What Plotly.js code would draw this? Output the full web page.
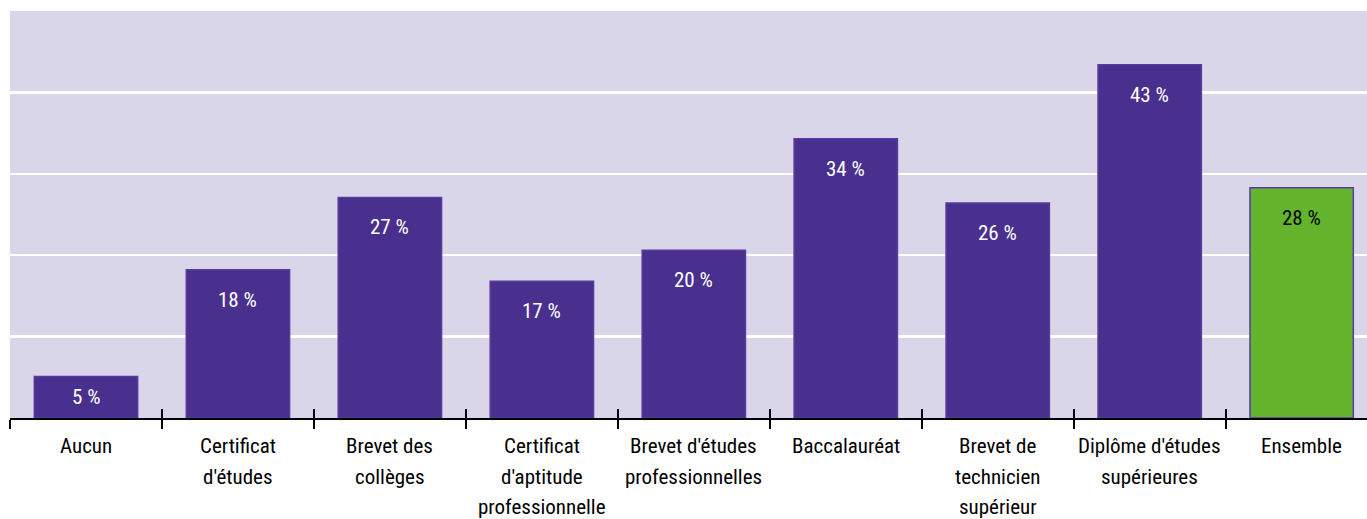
<!DOCTYPE html>
<html>
<head>
<meta charset="utf-8">
<script src="https://cdn.plot.ly/plotly-3.0.1.min.js"></script>
<style>
html,body{margin:0;padding:0;background:#fff;}
#chart{width:1367px;height:519px;}
text{font-stretch:condensed !important;}
</style>
</head>
<body>
<div id="chart"></div>
<script>
const categories = ["Aucun", "Certificat<br>d'études", "Brevet des<br>collèges", "Certificat<br>d'aptitude<br>professionnelle", "Brevet d'études<br>professionnelles", "Baccalauréat", "Brevet de<br>technicien<br>supérieur", "Diplôme d'études<br>supérieures", "Ensemble"];
const values = [5.1, 18.2, 27.1, 16.8, 20.6, 34.3, 26.4, 43.4, 28.3];
const valueLabels = ["5 %", "18 %", "27 %", "17 %", "20 %", "34 %", "26 %", "43 %", "28 %"];

const PURPLE = "#49308f";
const GREEN = "#64b42d";
const FONT = "Roboto, 'Open Sans', sans-serif";
const FS = 21;
const PLOT_H = 407, YMAX = 50;

const barColors = categories.map((c, i) => i === categories.length - 1 ? GREEN : PURPLE);

const traces = [
  {
    type: "bar", x: categories, y: values,
    marker: {color: barColors, line: {color: "#563c9e", width: 1.5}},
    width: 0.68, hoverinfo: "skip"
  },
  {
    type: "scatter", mode: "none", x: categories, y: values,
    xaxis: "x2", hoverinfo: "skip", showlegend: false
  }
];

const annotations = [];
values.forEach((v, i) => {
  const hpx = v * PLOT_H / YMAX;
  annotations.push({
    x: categories[i], y: v, xref: "x", yref: "y",
    text: valueLabels[i], showarrow: false, yanchor: "middle",
    yshift: -Math.min(30, hpx / 2),
    font: {family: FONT, size: FS, color: i === values.length - 1 ? "#000" : "#fff"}
  });
  categories[i].split("<br>").forEach((line, j) => {
    annotations.push({
      x: categories[i], y: 0, xref: "x", yref: "y",
      text: line, showarrow: false, yanchor: "middle", borderpad: 0,
      yshift: -(28 + 30.5 * j),
      font: {family: FONT, size: FS, color: "#000"}
    });
  });
});

const xr = [-0.5, 8.43];
const layout = {
  width: 1367, height: 519,
  margin: {l: 10, r: 0, t: 11, b: 101},
  paper_bgcolor: "#ffffff", plot_bgcolor: "#d9d6e9",
  showlegend: false,
  xaxis: {
    type: "category", range: xr, showticklabels: false,
    ticks: "outside", tickson: "boundaries", ticklen: 9, tickwidth: 2, tickcolor: "#000",
    showline: true, linecolor: "#000", linewidth: 2, showgrid: false, zeroline: false, fixedrange: true
  },
  xaxis2: {
    type: "category", range: xr, overlaying: "x", anchor: "y", side: "bottom",
    showticklabels: false, ticks: "inside", tickson: "boundaries", ticklen: 9, tickwidth: 2, tickcolor: "#000",
    showline: false, showgrid: false, zeroline: false
  },
  yaxis: {
    range: [0, YMAX], dtick: 10, showticklabels: false, ticks: "",
    showgrid: true, gridcolor: "#ffffff", gridwidth: 2.5, zeroline: false, showline: false
  },
  annotations: annotations,
  font: {family: FONT, size: FS}
};

Plotly.newPlot("chart", traces, layout, {displayModeBar: false, staticPlot: true});
</script>
</body>
</html>
